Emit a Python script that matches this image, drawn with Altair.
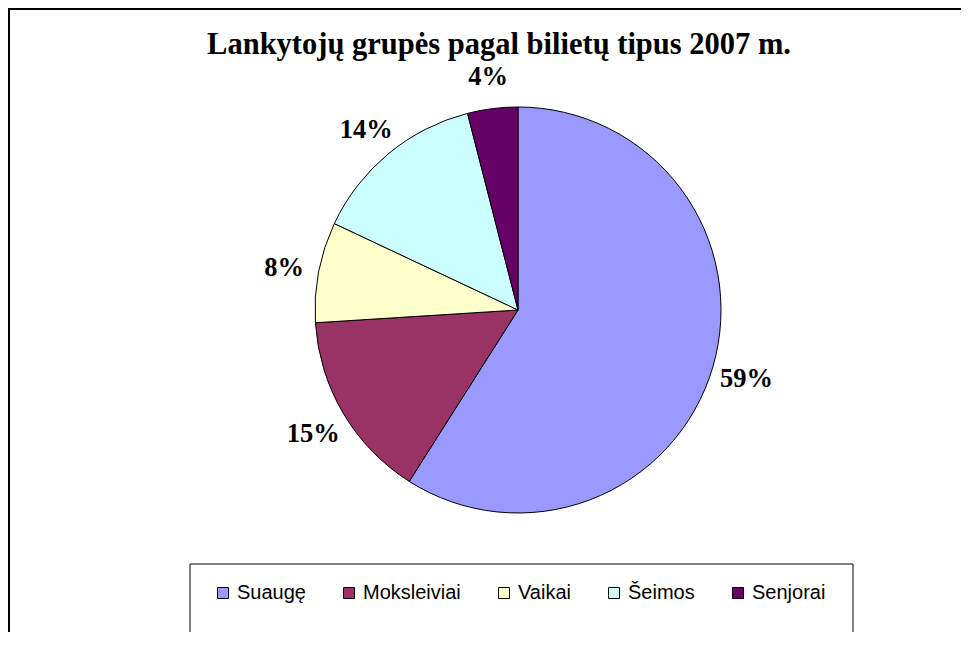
import altair as alt
import pandas as pd

categories = ["Suaugę", "Moksleiviai", "Vaikai", "Šeimos", "Senjorai"]
values = [59, 15, 8, 14, 4]
labels = ["59%", "15%", "8%", "14%", "4%"]
colors = ["#9999FF", "#993366", "#FFFFCC", "#CCFFFF", "#660066"]
title_text = "Lankytojų grupės pagal bilietų tipus 2007 m."

df = pd.DataFrame({
    "category": categories,
    "value": values,
    "label": labels,
    "idx": list(range(len(categories))),
})

W, H = 953, 624
CX, CY, R = 510, 302, 203

base = alt.Chart(df).encode(
    theta=alt.Theta("value:Q", stack=True),
    order=alt.Order("idx:Q", sort="ascending"),
)

pie = base.mark_arc(stroke="black", strokeWidth=1, outerRadius=R).encode(
    x=alt.value(CX),
    y=alt.value(CY),
    color=alt.Color(
        "category:N",
        scale=alt.Scale(domain=categories, range=colors),
        sort=categories,
        legend=alt.Legend(
            title=None,
            orient="none",
            legendX=205,
            legendY=575,
            direction="horizontal",
            symbolType="square",
            symbolSize=121,
            symbolStrokeColor="black",
            symbolStrokeWidth=1,
            labelFont="Liberation Sans",
            labelFontSize=20,
            labelColor="black",
            columnPadding=33,
            labelOffset=4,
            labelLimit=300,
        ),
    ),
)

text = base.mark_text(
    font="Liberation Serif", fontSize=26.5, fontWeight="bold", color="black", dy=3
).encode(
    x=alt.value(CX),
    y=alt.value(CY),
    radius=alt.value(238),
    text="label:N",
)

one = alt.Chart(df).transform_filter(alt.datum.idx == 0)

legend_box = one.mark_rect(fill="white", stroke="black", strokeWidth=1).encode(
    x=alt.value(182), x2=alt.value(845), y=alt.value(556), y2=alt.value(637)
)

border_top = one.mark_rule(color="black", strokeWidth=2).encode(
    x=alt.value(0), x2=alt.value(W), y=alt.value(1)
)
border_left = one.mark_rule(color="black", strokeWidth=2).encode(
    x=alt.value(1), y=alt.value(0), y2=alt.value(H)
)

title = one.mark_text(
    font="Liberation Serif", fontSize=30.5, fontWeight="bold", color="black"
).encode(
    x=alt.value(491), y=alt.value(37), text=alt.value(title_text)
)

chart = alt.layer(legend_box, pie, text, title, border_top, border_left).properties(
    width=W, height=H,
    autosize=alt.AutoSizeParams(type="none"),
    padding=0,
    background="white",
).configure_view(
    strokeWidth=0
)

chart.save("out.html", embed_options={"renderer": "svg", "actions": False})
